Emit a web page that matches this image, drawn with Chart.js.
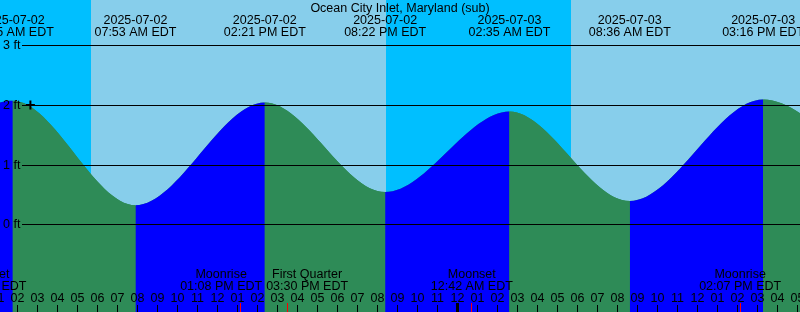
<!DOCTYPE html>
<html>
<head>
<meta charset="utf-8">
<script src="https://cdn.jsdelivr.net/npm/chart.js@4.4.0/dist/chart.umd.min.js"></script>
<style>
  html, body { margin: 0; padding: 0; background: #87ceeb; }
  #wrap { width: 800px; height: 312px; position: relative; }
</style>
</head>
<body>
<div id="wrap"><canvas id="tide"></canvas></div>
<script>
/* ── Ocean City Inlet tide graph ───────────────────────────────── */
// all times are hours after 2025-07-02 00:00 EDT

const tideTimes  = [-4.55, 1.75, 7.883, 14.35, 20.367, 26.583, 32.6, 39.267, 45.45];
const tideLevels = [0.52, 2.07, 0.32, 2.04, 0.54, 1.89, 0.39, 2.09, 0.58];
const tideDates  = ['2025-07-01', '2025-07-02', '2025-07-02', '2025-07-02', '2025-07-02',
                    '2025-07-03', '2025-07-03', '2025-07-03', '2025-07-03'];
const tideClock  = ['07:27 PM EDT', '01:45 AM EDT', '07:53 AM EDT', '02:21 PM EDT', '08:22 PM EDT',
                    '02:35 AM EDT', '08:36 AM EDT', '03:16 PM EDT', '09:27 PM EDT'];

const sunriseTimes = [5.65, 29.65];
const sunsetTimes  = [20.4];

const moonTimes = [0.385, 13.133, 15.5, 24.7, 38.117];
const moonNames = ['Moonset', 'Moonrise', 'First Quarter', 'Moonset', 'Moonrise'];
const moonClock = ['12:23 AM EDT', '01:08 PM EDT', '03:30 PM EDT', '12:42 AM EDT', '02:07 PM EDT'];

const gridLevels = [0, 1, 2, 3];
const markPoint  = [{ x: 2.63, y: 2.0 }];

const TITLE   = 'Ocean City Inlet, Maryland (sub)';
const X_MIN   = 1.11, X_MAX = 41.11;
const Y_MIN   = -1.469, Y_MAX = 3.757;

const NIGHT   = '#00bfff';
const DAY     = '#87ceeb';
const RISING  = '#0000ff';
const FALLING = '#2e8b57';
const FONT    = '12.5px "Liberation Sans", Arial, sans-serif';

/* ── Day / night background ── */
const skyPlugin = {
  id: 'sky',
  beforeDraw(chart) {
    const { ctx, chartArea: a, scales: { x } } = chart;
    ctx.save();
    ctx.fillStyle = NIGHT;
    ctx.fillRect(a.left, a.top, a.right - a.left, a.bottom - a.top);
    // pair each sunrise with the following sunset (or the chart end)
    ctx.fillStyle = DAY;
    sunriseTimes.forEach(rise => {
      const set = sunsetTimes.find(s => s > rise) ?? X_MAX;
      const x0 = x.getPixelForValue(rise), x1 = x.getPixelForValue(set);
      ctx.fillRect(Math.round(x0), a.top, Math.round(x1) - Math.round(x0), a.bottom - a.top);
    });
    ctx.restore();
  }
};

/* ── Grid lines, labels, ticks on top ── */
const labelPlugin = {
  id: 'labels',
  afterDatasetsDraw(chart) {
    const { ctx, chartArea: a, scales: { x, y } } = chart;
    ctx.save();
    ctx.font = FONT;
    ctx.fillStyle = '#000';
    ctx.strokeStyle = '#000';
    ctx.lineWidth = 1;

    // level lines + "N ft"
    gridLevels.forEach(v => {
      const py = Math.round(y.getPixelForValue(v)) + 0.5;
      ctx.beginPath();
      ctx.moveTo(22, py);
      ctx.lineTo(a.right, py);
      ctx.stroke();
      ctx.textAlign = 'left';
      ctx.textBaseline = 'middle';
      ctx.fillText(v + ' ft', 3, py);
    });

    // title
    ctx.textAlign = 'center';
    ctx.textBaseline = 'alphabetic';
    ctx.fillText(TITLE, (a.left + a.right) / 2, 12);

    // high / low labels
    tideTimes.forEach((t, i) => {
      const px = x.getPixelForValue(t);
      ctx.fillText(tideDates[i], px, 24);
      ctx.fillText(tideClock[i], px, 36);
    });

    // hour labels and ticks
    for (let h = Math.ceil(X_MIN - 1); h <= Math.floor(X_MAX + 1); h++) {
      const px = Math.floor(x.getPixelForValue(h));
      const hr = ((h % 12) + 12) % 12 || 12;
      ctx.fillText(String(hr).padStart(2, '0'), px + 0.5, 301.5);
      if (((h % 24) + 24) % 24 === 0) {
        ctx.fillRect(px - 1, 303, 3, a.bottom - 303);
      } else {
        ctx.fillRect(px, 305, 1, a.bottom - 305);
      }
    }

    // moon events: red ticks, labels pushed apart when they collide
    const boxes = moonTimes.map((t, i) => {
      const w = Math.max(ctx.measureText(moonNames[i]).width, ctx.measureText(moonClock[i]).width);
      return { tick: x.getPixelForValue(t), cx: x.getPixelForValue(t), w, i };
    });
    for (let k = 0; k < boxes.length - 1; k++) {
      const l = boxes[k], r = boxes[k + 1];
      const overlap = (l.cx + l.w / 2 + 4) - (r.cx - r.w / 2);
      if (overlap > 0) { l.cx -= overlap / 2; r.cx += overlap / 2; }
    }
    boxes.forEach(b => {
      ctx.fillStyle = '#ff0000';
      ctx.fillRect(Math.floor(b.tick), 303, 1, a.bottom - 303);
      ctx.fillStyle = '#000';
      ctx.fillText(moonNames[b.i], b.cx, 278);
      ctx.fillText(moonClock[b.i], b.cx, 289.5);
    });

    ctx.restore();
  }
};

const tidePoints = tideTimes.map((t, i) => ({ x: t, y: tideLevels[i] }));

new Chart(document.getElementById('tide'), {
  type: 'line',
  data: {
    datasets: [{
      label: 'Mark',
      order: 0,
      data: markPoint,
      showLine: false,
      fill: false,
      pointStyle: 'cross',
      pointRadius: 4.5,
      pointBorderWidth: 2,
      pointBorderColor: '#000'
    }, {
      // rising = blue, falling = green
      label: 'Tide',
      order: 1,
      data: tidePoints,
      cubicInterpolationMode: 'monotone',
      borderWidth: 0,
      pointRadius: 0,
      fill: 'start',
      backgroundColor: FALLING,
      segment: {
        backgroundColor: c => c.p1.parsed.y > c.p0.parsed.y ? RISING : FALLING
      }
    }, {
      // plain fill underneath, hides hairline seams between segments
      label: 'Tide base',
      order: 2,
      data: tidePoints,
      cubicInterpolationMode: 'monotone',
      borderWidth: 0,
      pointRadius: 0,
      fill: 'start',
      backgroundColor: FALLING
    }]
  },
  options: {
    responsive: true, maintainAspectRatio: false,
    animation: false, events: [],
    layout: { padding: 0, autoPadding: false },
    plugins: { legend: { display: false }, tooltip: { enabled: false } },
    scales: {
      x: { type: 'linear', min: X_MIN, max: X_MAX, display: false },
      y: { min: Y_MIN, max: Y_MAX, display: false }
    }
  },
  plugins: [skyPlugin, labelPlugin]
});
</script>
</body>
</html>
